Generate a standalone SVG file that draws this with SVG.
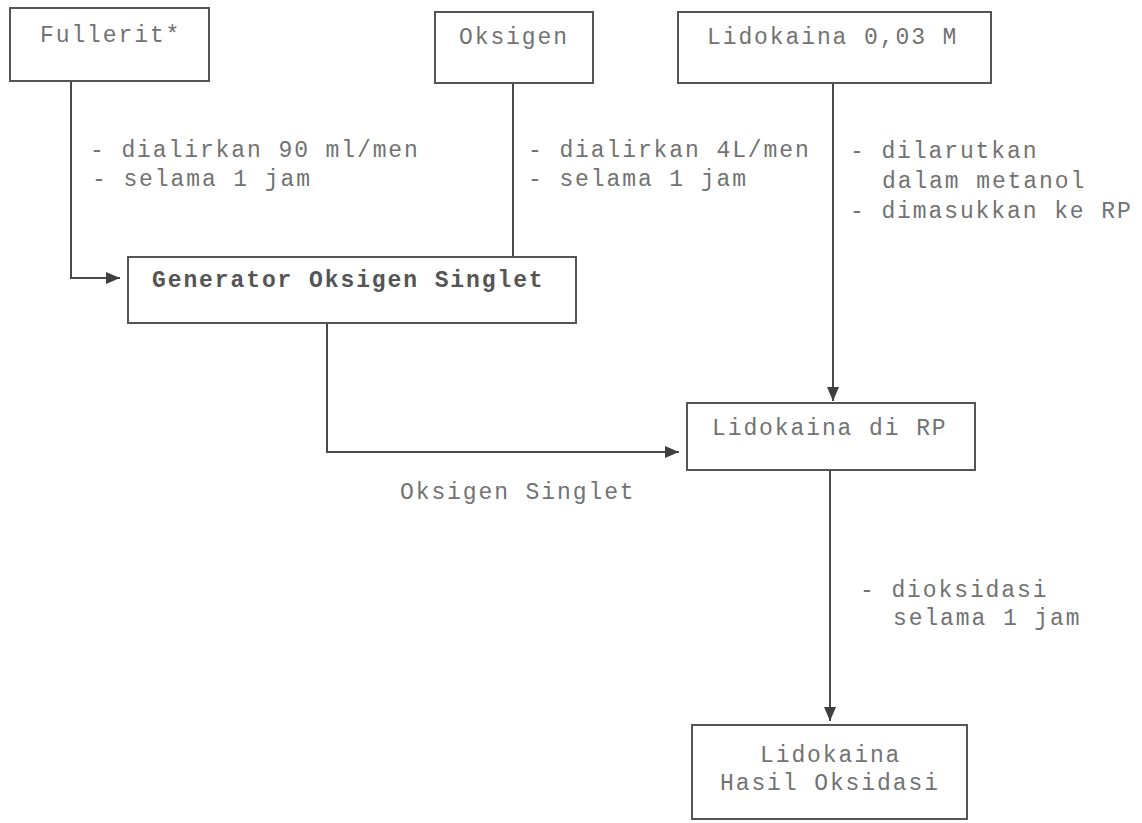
<svg xmlns="http://www.w3.org/2000/svg" width="1142" height="823" viewBox="0 0 1142 823">
  <style>
    .box { fill: #ffffff; stroke: #555555; stroke-width: 2; }
    .lbl { font-family: "Liberation Mono", "DejaVu Sans Mono", monospace; font-size: 23px; letter-spacing: 1.9px; fill: #727272; }
    .bold { font-weight: bold; fill: #555555; }
    .wire { fill: none; stroke: #4a4a4a; stroke-width: 2; }
  </style>
  <defs>
    <marker id="arrow" markerUnits="userSpaceOnUse" markerWidth="14" markerHeight="12" refX="14" refY="6" orient="auto">
      <path d="M0,0 L14,6 L0,12 Z" fill="#3f3f3f"/>
    </marker>
  </defs>
  <rect width="1142" height="823" fill="#ffffff"/>

  <!-- connectors -->
  <g id="connectors">
    <path class="wire" d="M71,81 V278 H120" marker-end="url(#arrow)"/>
    <path class="wire" d="M513,83 V257"/>
    <path class="wire" d="M833,83 V401" marker-end="url(#arrow)"/>
    <path class="wire" d="M327,323 V452 H679" marker-end="url(#arrow)"/>
    <path class="wire" d="M830,470 V721" marker-end="url(#arrow)"/>
  </g>

  <!-- connector notes -->
  <g id="notes">
    <text class="lbl" x="90" y="157">- dialirkan 90 ml/men</text>
    <text class="lbl" x="92" y="186">- selama 1 jam</text>
    <text class="lbl" x="528" y="157">- dialirkan 4L/men</text>
    <text class="lbl" x="528" y="186">- selama 1 jam</text>
    <text class="lbl" x="850" y="158">- dilarutkan</text>
    <text class="lbl" x="882" y="188">dalam metanol</text>
    <text class="lbl" x="850" y="218">- dimasukkan ke RP</text>
    <text class="lbl" x="400" y="499">Oksigen Singlet</text>
    <text class="lbl" x="860" y="597">- dioksidasi</text>
    <text class="lbl" x="893" y="625">selama 1 jam</text>
  </g>

  <g id="fullerit">
    <rect class="box" x="10" y="8" width="199" height="73"/>
    <text class="lbl" x="40" y="42">Fullerit*</text>
  </g>

  <g id="oksigen">
    <rect class="box" x="435" y="12" width="158" height="71"/>
    <text class="lbl" x="459" y="44">Oksigen</text>
  </g>

  <g id="lidokaina-stok">
    <rect class="box" x="678" y="12" width="313" height="71"/>
    <text class="lbl" x="707" y="44">Lidokaina 0,03 M</text>
  </g>

  <g id="generator">
    <rect class="box" x="128" y="257" width="448" height="66"/>
    <text class="lbl bold" x="152" y="287">Generator Oksigen Singlet</text>
  </g>

  <g id="lidokaina-rp">
    <rect class="box" x="687" y="403" width="288" height="67"/>
    <text class="lbl" x="712" y="435">Lidokaina di RP</text>
  </g>

  <g id="hasil-oksidasi">
    <rect class="box" x="692" y="725" width="275" height="94"/>
    <text class="lbl" x="760" y="762">Lidokaina</text>
    <text class="lbl" x="720" y="790">Hasil Oksidasi</text>
  </g>
</svg>
